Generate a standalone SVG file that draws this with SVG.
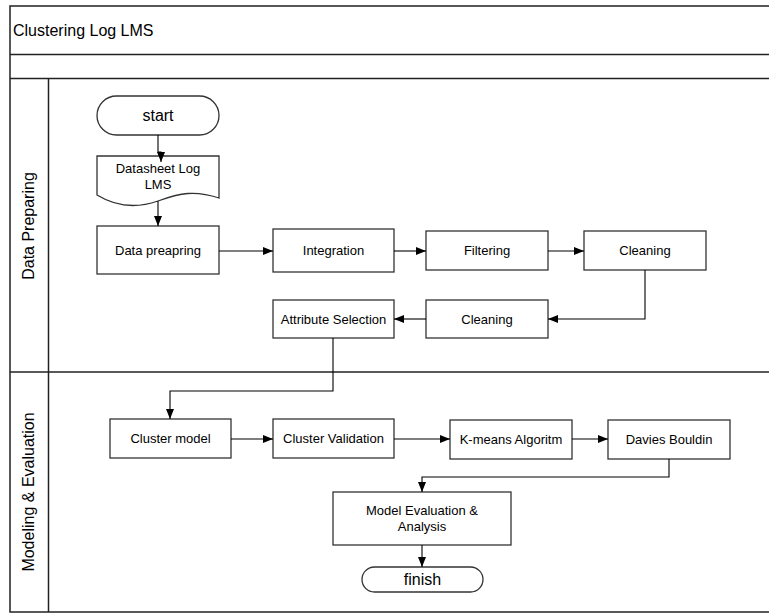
<svg xmlns="http://www.w3.org/2000/svg" width="769" height="614" viewBox="0 0 769 614">
<style>
text{font-family:"Liberation Sans",Arial,sans-serif;fill:#000}
.box{fill:#fff;stroke:#333;stroke-width:1.3}
.frame{fill:none;stroke:#222;stroke-width:1.5}
.t13{font-size:13px;text-anchor:middle}
.t16{font-size:16px;text-anchor:middle}
.conn path{fill:none;stroke:#000;stroke-width:1.1}
</style>
<defs>
<marker id="arr" markerUnits="userSpaceOnUse" markerWidth="10" markerHeight="8" refX="10" refY="4" orient="auto">
<path d="M0,0 L10,4 L0,8 Z" fill="#000"/>
</marker>
</defs>
<rect width="769" height="614" fill="#fff"/>
<g id="frame">
<rect class="frame" x="10" y="6" width="800" height="606"/>
<line class="frame" x1="10" y1="54.5" x2="769" y2="54.5"/>
<line class="frame" x1="10" y1="78.5" x2="769" y2="78.5" stroke-width="2"/>
<line class="frame" x1="10" y1="372" x2="769" y2="372"/>
<line class="frame" x1="48.5" y1="78.5" x2="48.5" y2="612"/>
<text x="13" y="36" style="font-size:16px">Clustering Log LMS</text>
<text transform="translate(33.5,226) rotate(-90)" class="t16">Data Preparing</text>
<text transform="translate(33.5,492) rotate(-90)" class="t16">Modeling &amp; Evaluation</text>
</g>
<g id="start"><rect class="box" x="97" y="96" width="122" height="39" rx="19.5"/><text class="t16" x="158" y="121">start</text></g>
<g id="datasheet"><path class="box" d="M97,156 H219 V198 C195,190 180,193 158,201 C135,209 115,206 97,195 Z"/><text class="t13" x="158" y="173">Datasheet Log</text><text class="t13" x="158" y="189">LMS</text></g>
<g id="data-preapring"><rect class="box" x="97" y="226" width="122" height="48"/><text class="t13" x="158" y="255">Data preapring</text></g>
<g id="integration"><rect class="box" x="273" y="229" width="121" height="43"/><text class="t13" x="333.5" y="255">Integration</text></g>
<g id="filtering"><rect class="box" x="426" y="231" width="122" height="39"/><text class="t13" x="487" y="255">Filtering</text></g>
<g id="cleaning1"><rect class="box" x="584" y="231" width="122" height="39"/><text class="t13" x="645" y="255">Cleaning</text></g>
<g id="cleaning2"><rect class="box" x="426" y="300" width="122" height="38"/><text class="t13" x="487" y="324">Cleaning</text></g>
<g id="attribute-selection"><rect class="box" x="273" y="300" width="121" height="38"/><text class="t13" x="333.5" y="324">Attribute Selection</text></g>
<g id="cluster-model"><rect class="box" x="110" y="419" width="121" height="39"/><text class="t13" x="170.5" y="443">Cluster model</text></g>
<g id="cluster-validation"><rect class="box" x="273" y="419" width="121" height="39"/><text class="t13" x="333.5" y="443">Cluster Validation</text></g>
<g id="kmeans"><rect class="box" x="450" y="420" width="122" height="39"/><text class="t13" x="511" y="444">K-means Algoritm</text></g>
<g id="davies-bouldin"><rect class="box" x="608" y="420" width="122" height="39"/><text class="t13" x="669" y="444">Davies Bouldin</text></g>
<g id="model-evaluation"><rect class="box" x="333" y="492" width="178" height="53"/><text class="t13" x="422" y="515">Model Evaluation &amp;</text><text class="t13" x="422" y="531">Analysis</text></g>
<g id="finish"><rect class="box" x="362" y="567" width="121" height="25" rx="12.5"/><text class="t16" x="422.5" y="585">finish</text></g>
<g class="conn" id="connectors">
<path d="M158,135 V152 H161 V162" marker-end="url(#arr)"/>
<path d="M158,201 V226" marker-end="url(#arr)"/>
<path d="M219,251 H273" marker-end="url(#arr)"/>
<path d="M394,251 H426" marker-end="url(#arr)"/>
<path d="M548,251 H584" marker-end="url(#arr)"/>
<path d="M645,270 V319 H548" marker-end="url(#arr)"/>
<path d="M426,319 H394" marker-end="url(#arr)"/>
<path d="M333,338 V391 H170 V419" marker-end="url(#arr)"/>
<path d="M231,439 H273" marker-end="url(#arr)"/>
<path d="M394,439 H450" marker-end="url(#arr)"/>
<path d="M572,439 H608" marker-end="url(#arr)"/>
<path d="M669,459 V477 H422 V492" marker-end="url(#arr)"/>
<path d="M422,545 V567" marker-end="url(#arr)"/>
</g>
</svg>
